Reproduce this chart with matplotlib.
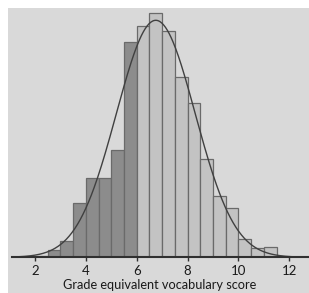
import numpy as np
import matplotlib
matplotlib.use("Agg")
import matplotlib.pyplot as plt
from matplotlib.patches import Rectangle

# histogram of grade equivalent vocabulary scores (bin width 0.5)
bin_left = [2.0, 2.5, 3.0, 3.5, 4.0, 4.5, 5.0, 5.5, 6.0, 6.5, 7.0, 7.5,
            8.0, 8.5, 9.0, 9.5, 10.0, 10.5, 11.0]
counts = [1.3, 7, 16, 54, 79, 79, 107, 215, 231, 244, 226, 180,
          154, 98, 61, 49, 18, 9, 10]
split_score = 6.0          # bars below this are shaded darker

# fitted normal curve
curve_mean = 6.75
curve_sd = 1.55
curve_peak = 237
curve_from, curve_to = 1.3, 12.2

ticks = [2, 4, 6, 8, 10, 12]
xlabel = "Grade equivalent vocabulary score"

plt.rcParams['font.family'] = ['Lato', 'DejaVu Sans']

fig = plt.figure(figsize=(3.09, 2.93), dpi=100)
fig.patch.set_facecolor("white")
fig.patches.append(Rectangle((8 / 309, 0), 1, 285 / 293, transform=fig.transFigure,
                             facecolor="#d9d9d9", edgecolor="none", zorder=-1))

ax = fig.add_axes([12 / 309, 35.7 / 293, 296 / 309, 249.3 / 293])
ax.set_zorder(2)
ax.patch.set_alpha(0)

colors = ["#8c8c8c" if b < split_score else "#c3c3c3" for b in bin_left]
ax.bar(bin_left, counts, width=0.5, align="edge", color=colors,
       edgecolor="#6a6a6a", linewidth=0.9)

xs = np.linspace(curve_from, curve_to, 300)
ax.plot(xs, curve_peak * np.exp(-0.5 * ((xs - curve_mean) / curve_sd) ** 2),
        color="#404040", linewidth=1.0)

ax.set_xlim(1.096, 12.735)
ax.set_ylim(0, 249.3)
for s in ["top", "right", "left"]:
    ax.spines[s].set_visible(False)
ax.spines["bottom"].set_color("#303030")
ax.spines["bottom"].set_linewidth(1.5)
ax.set_yticks([])
ax.set_xticks(ticks)
ax.tick_params(axis="x", direction="out", length=3, width=1, color="#303030",
               labelsize=9.5, pad=2.5, labelcolor="#1a1a1a")
ax.set_xlabel(xlabel, fontsize=9.2, labelpad=1.5, color="#1a1a1a")

fig.savefig("out.png", dpi=100)
